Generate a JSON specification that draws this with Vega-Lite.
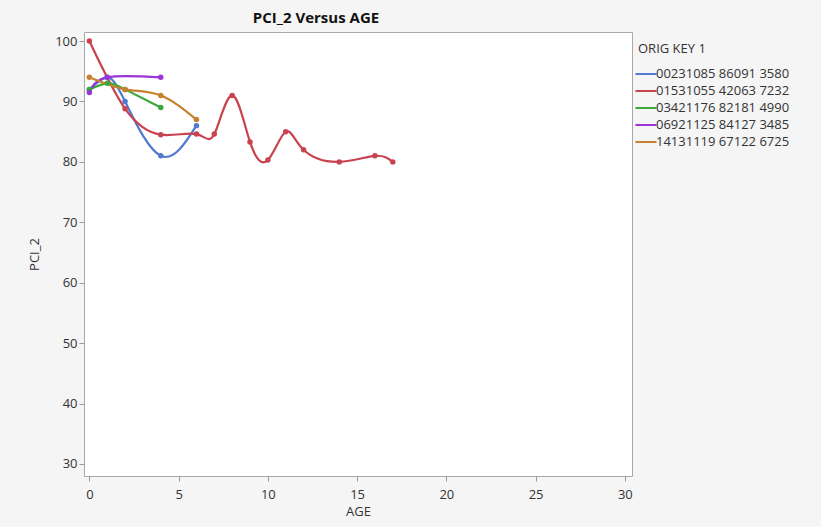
{
  "$schema": "https://vega.github.io/schema/vega-lite/v6.json",
  "width": 548,
  "height": 444,
  "padding": {"left": 28, "top": 11, "right": 34, "bottom": 9},
  "background": "#f5f5f5",
  "title": {
    "text": "PCI_2 Versus AGE",
    "font": "Open Sans",
    "fontSize": 15,
    "fontWeight": "bold",
    "color": "#111111",
    "anchor": "middle",
    "dx": -42,
    "offset": 6
  },
  "config": {
    "font": "Open Sans",
    "view": {"fill": "white", "stroke": "#a8a8a8", "strokeWidth": 1},
    "axis": {
      "grid": false,
      "domain": false,
      "tickColor": "#9a9a9a",
      "tickSize": 5,
      "labelFont": "Open Sans",
      "labelFontSize": 13,
      "labelColor": "#333333",
      "titleFont": "Open Sans",
      "titleFontSize": 13,
      "titleFontWeight": "normal",
      "titleColor": "#333333"
    }
  },
  "data": {
    "values": [
      {"key": "00231085 86091 3580", "AGE": 0, "PCI_2": 92},
      {"key": "00231085 86091 3580", "AGE": 1, "PCI_2": 94},
      {"key": "00231085 86091 3580", "AGE": 2, "PCI_2": 90},
      {"key": "00231085 86091 3580", "AGE": 4, "PCI_2": 81},
      {"key": "00231085 86091 3580", "AGE": 6, "PCI_2": 86},
      {"key": "01531055 42063 7232", "AGE": 0, "PCI_2": 100},
      {"key": "01531055 42063 7232", "AGE": 2, "PCI_2": 88.8},
      {"key": "01531055 42063 7232", "AGE": 4, "PCI_2": 84.5},
      {"key": "01531055 42063 7232", "AGE": 6, "PCI_2": 84.6},
      {"key": "01531055 42063 7232", "AGE": 7, "PCI_2": 84.6},
      {"key": "01531055 42063 7232", "AGE": 8, "PCI_2": 91},
      {"key": "01531055 42063 7232", "AGE": 9, "PCI_2": 83.3},
      {"key": "01531055 42063 7232", "AGE": 10, "PCI_2": 80.3},
      {"key": "01531055 42063 7232", "AGE": 11, "PCI_2": 85},
      {"key": "01531055 42063 7232", "AGE": 12, "PCI_2": 82},
      {"key": "01531055 42063 7232", "AGE": 14, "PCI_2": 80},
      {"key": "01531055 42063 7232", "AGE": 16, "PCI_2": 81},
      {"key": "01531055 42063 7232", "AGE": 17, "PCI_2": 80},
      {"key": "03421176 82181 4990", "AGE": 0, "PCI_2": 92},
      {"key": "03421176 82181 4990", "AGE": 1, "PCI_2": 93},
      {"key": "03421176 82181 4990", "AGE": 2, "PCI_2": 92},
      {"key": "03421176 82181 4990", "AGE": 4, "PCI_2": 89},
      {"key": "06921125 84127 3485", "AGE": 0, "PCI_2": 91.5},
      {"key": "06921125 84127 3485", "AGE": 1, "PCI_2": 94},
      {"key": "06921125 84127 3485", "AGE": 4, "PCI_2": 94},
      {"key": "14131119 67122 6725", "AGE": 0, "PCI_2": 94},
      {"key": "14131119 67122 6725", "AGE": 2, "PCI_2": 92},
      {"key": "14131119 67122 6725", "AGE": 4, "PCI_2": 91},
      {"key": "14131119 67122 6725", "AGE": 6, "PCI_2": 87}
    ]
  },
  "encoding": {
    "x": {
      "field": "AGE",
      "type": "quantitative",
      "scale": {"domain": [-0.3, 30.4], "nice": false, "zero": false},
      "axis": {"values": [0, 5, 10, 15, 20, 25, 30], "title": "AGE", "labelPadding": 7, "titlePadding": 4}
    },
    "y": {
      "field": "PCI_2",
      "type": "quantitative",
      "scale": {"domain": [28, 101.5], "nice": false, "zero": false},
      "axis": {"values": [30, 40, 50, 60, 70, 80, 90, 100], "title": "PCI_2", "labelPadding": 2, "titlePadding": 13}
    },
    "color": {
      "field": "key",
      "type": "nominal",
      "scale": {
        "domain": ["00231085 86091 3580", "01531055 42063 7232", "03421176 82181 4990", "06921125 84127 3485", "14131119 67122 6725"],
        "range": ["#4f79d2", "#c9434f", "#3aa83a", "#9a34d6", "#c7812e"]
      },
      "legend": {
        "title": "ORIG KEY 1",
        "orient": "none",
        "legendX": 554,
        "legendY": 11,
        "titleFont": "Open Sans",
        "titleFontSize": 13,
        "titleFontWeight": "normal",
        "titleColor": "#333333",
        "titlePadding": 10,
        "labelFont": "Open Sans",
        "labelFontSize": 13,
        "labelColor": "#333333",
        "labelOffset": 2,
        "symbolType": "M-1.5,0H1.5",
        "symbolSize": 196,
        "symbolStrokeWidth": 2,
        "rowPadding": 2
      }
    }
  },
  "layer": [
    {
      "mark": {"type": "line", "interpolate": "natural", "strokeWidth": 2.2},
      "encoding": {"detail": {"field": "key"}}
    },
    {
      "mark": {"type": "circle", "size": 30, "opacity": 1}
    }
  ]
}
